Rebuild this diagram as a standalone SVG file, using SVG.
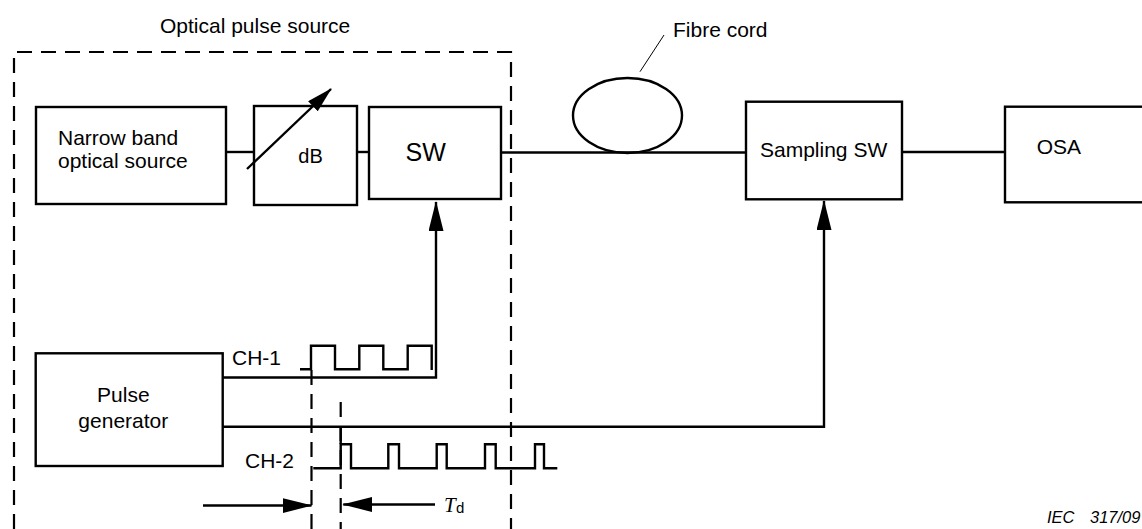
<svg xmlns="http://www.w3.org/2000/svg" width="1142" height="529" viewBox="0 0 1142 529">
<defs>
<style>
.box{fill:#fff;stroke:#000;stroke-width:2.4}
.ln{fill:none;stroke:#000;stroke-width:2.4}
.dash{fill:none;stroke:#000;stroke-width:2.2;stroke-dasharray:15,9}
.thin{fill:none;stroke:#000;stroke-width:1}
.t{font-family:"Liberation Sans",Arial,sans-serif;font-size:21px;fill:#000}
.big{font-size:25px}
.mid{font-size:20px}
</style>
<marker id="ah" viewBox="0 0 30 15" refX="29" refY="7.5" markerWidth="30" markerHeight="15" orient="auto" markerUnits="userSpaceOnUse"><path d="M0,0 L30,7.5 L0,15 z" fill="#000"/></marker>
<marker id="ahs" viewBox="0 0 26 14" refX="25" refY="7" markerWidth="26" markerHeight="14" orient="auto" markerUnits="userSpaceOnUse"><path d="M0,0 L26,7 L0,14 z" fill="#000"/></marker>
</defs>
<rect width="1142" height="529" fill="#fff"/>

<g id="optical-pulse-source">
<path class="dash" d="M14,529 V52 H511 V529"/>
<text class="t" x="160" y="33">Optical pulse source</text>
</g>

<g id="connectors">
<line class="ln" x1="226" y1="152" x2="254" y2="152"/>
<line class="ln" x1="357" y1="152" x2="369" y2="152"/>
<line class="ln" x1="501" y1="152.5" x2="746" y2="152.5"/>
<line class="ln" x1="902" y1="152" x2="1005" y2="152"/>
<path class="ln" d="M223,377.5 H436 V202" marker-end="url(#ah)"/>
<path class="ln" d="M223,426.7 H824 V201" marker-end="url(#ah)"/>
</g>

<g id="narrow-band-source">
<rect class="box" x="36" y="107" width="190" height="97"/>
<text class="t" x="58" y="145">Narrow band</text>
<text class="t" x="58" y="168">optical source</text>
</g>

<g id="attenuator">
<rect class="box" x="254" y="106" width="103" height="99"/>
<text class="t mid" x="310.5" y="163" text-anchor="middle">dB</text>
<line class="ln" x1="247" y1="169" x2="331" y2="89" marker-end="url(#ahs)"/>
</g>

<g id="sw">
<rect class="box" x="369" y="107" width="132" height="92"/>
<text class="t big" x="425.7" y="161" text-anchor="middle">SW</text>
</g>

<g id="fibre-cord">
<ellipse class="ln" cx="627.5" cy="115.5" rx="54.5" ry="37.5"/>
<line class="thin" x1="640" y1="71.7" x2="664" y2="35"/>
<text class="t" x="673" y="37">Fibre cord</text>
</g>

<g id="sampling-sw">
<rect class="box" x="746" y="101.7" width="156" height="97.6"/>
<text class="t" x="760" y="156.7">Sampling SW</text>
</g>

<g id="osa">
<rect class="box" x="1005" y="106.7" width="150" height="95.6"/>
<text class="t" x="1036.7" y="154">OSA</text>
</g>

<g id="pulse-generator">
<rect class="box" x="35.7" y="353.3" width="187" height="112.7"/>
<text class="t" x="123.3" y="402" text-anchor="middle">Pulse</text>
<text class="t" x="123.3" y="428" text-anchor="middle">generator</text>
</g>

<g id="ch1">
<text class="t" x="232" y="365">CH-1</text>
<path class="ln" d="M300,369.3 H311 V345.7 H335 V369.3 H359.3 V345.7 H383.3 V369.3 H407.7 V345.7 H431.7 V370"/>
</g>

<g id="ch2">
<text class="t" x="245" y="468.3">CH-2</text>
<path class="ln" d="M313.3,468.3 H340.7 V444.3 H351 V468.3 H388.3 V444.3 H399 V468.3 H436.7 V444.3 H446.7 V468.3 H485 V444.3 H495.7 V468.3 H535 V444.3 H544 V468.3 H557.3"/>
</g>

<g id="td">
<path class="dash" d="M311.5,370 V529"/>
<path class="dash" d="M340.7,402 V529"/>
<line class="ln" x1="340.7" y1="427" x2="340.7" y2="444"/>
<line class="ln" x1="203" y1="505.5" x2="311.5" y2="505.5" marker-end="url(#ah)"/>
<line class="ln" x1="435" y1="504.5" x2="343.3" y2="504.5" marker-end="url(#ah)"/>
<text x="444" y="512" font-family="'Liberation Serif',serif" font-style="italic" font-size="21">T</text>
<text x="456" y="513" font-family="'Liberation Sans',sans-serif" font-size="15">d</text>
</g>

<g id="figure-id" font-family="'Liberation Sans',Arial,sans-serif" font-style="italic" font-size="16.5">
<text x="1047" y="523">IEC</text>
<text x="1090" y="523">317/09</text>
</g>
</svg>
